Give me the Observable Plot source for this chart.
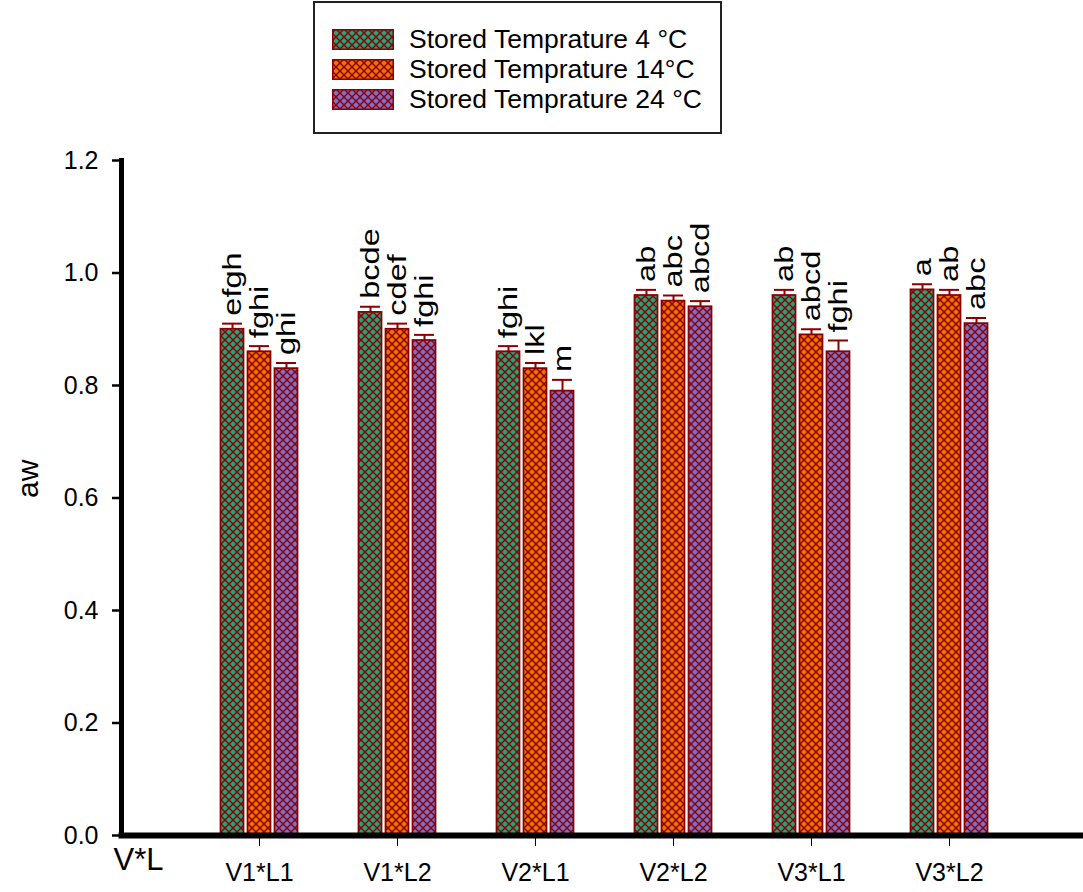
<!DOCTYPE html>
<html>
<head>
<meta charset="utf-8">
<script src="https://cdn.jsdelivr.net/npm/d3@7"></script>
<script src="https://cdn.jsdelivr.net/npm/@observablehq/plot@0.6"></script>
<style>
  html, body { margin: 0; padding: 0; background: #fff; }
  body { font-family: "Liberation Sans", Arial, sans-serif; width: 1083px; }
  #legend { position: relative; height: 140px; }
  #legend .box { position: absolute; left: 313px; top: 1px; width: 409px; height: 133px; box-sizing: border-box; border: 2px solid #222; }
  #legend .row { position: absolute; left: 17px; height: 22px; display: flex; align-items: center; }
  #legend .row svg { display: block; margin-right: 15px; }
  #legend .row span { font-size: 26.5px; color: #000; white-space: nowrap; line-height: 22px; }
  #chart svg { display: block; }
</style>
</head>
<body>
<svg width="0" height="0" style="position:absolute">
  <defs id="patterns"></defs>
</svg>
<div id="legend"><div class="box"></div></div>
<div id="chart"></div>
<script>
// ---------------- data ----------------
const categories = ["V1*L1", "V1*L2", "V2*L1", "V2*L2", "V3*L1", "V3*L2"];
const seriesNames = ["Stored Temprature 4 °C", "Stored Temprature 14°C", "Stored Temprature 24 °C"];
const aw4  = [0.90, 0.93, 0.86, 0.96, 0.96, 0.97];
const aw14 = [0.86, 0.90, 0.83, 0.95, 0.89, 0.96];
const aw24 = [0.83, 0.88, 0.79, 0.94, 0.86, 0.91];
const err4  = [0.01, 0.01, 0.01, 0.01, 0.01, 0.01];
const err14 = [0.01, 0.01, 0.01, 0.01, 0.01, 0.01];
const err24 = [0.01, 0.01, 0.02, 0.01, 0.02, 0.01];
const let4  = ["efgh", "bcde", "fghi", "ab", "ab", "a"];
const let14 = ["fghi", "cdef", "lkl", "abc", "abcd", "ab"];
const let24 = ["ghi", "fghi", "m", "abcd", "fghi", "abc"];
const yTicks = [0, 0.2, 0.4, 0.6, 0.8, 1.0, 1.2];

// ---------------- styles ----------------
const dark = "#8b0000";
const colors = ["#1fa47c", "#f07000", "#7d70cc"];
const offsets = [-27, 0, 27];

// patterns (crosshatch over colour)
const defs = document.getElementById("patterns");
colors.forEach((c, j) => {
  const ns = "http://www.w3.org/2000/svg";
  const p = document.createElementNS(ns, "pattern");
  p.setAttribute("id", "p" + j);
  p.setAttribute("patternUnits", "userSpaceOnUse");
  p.setAttribute("width", 8);
  p.setAttribute("height", 8);
  const bg = document.createElementNS(ns, "rect");
  bg.setAttribute("width", 8); bg.setAttribute("height", 8); bg.setAttribute("fill", dark);
  p.appendChild(bg);
  const r = 3.0;
  [[4, 4], [0, 0], [8, 0], [0, 8], [8, 8]].forEach(([cx, cy]) => {
    const d = document.createElementNS(ns, "polygon");
    d.setAttribute("points", `${cx},${cy - r} ${cx + r},${cy} ${cx},${cy + r} ${cx - r},${cy}`);
    d.setAttribute("fill", c);
    p.appendChild(d);
  });
  defs.appendChild(p);
});

// legend
const box = document.querySelector("#legend .box");
seriesNames.forEach((s, j) => {
  const row = document.createElement("div");
  row.className = "row";
  row.style.top = (25 + j * 30) + "px";
  row.innerHTML = `<svg width="62" height="21"><rect x="0.75" y="0.75" width="60.5" height="19.5" fill="url(#p${j})" stroke="${dark}" stroke-width="1.5"/></svg><span>${s}</span>`;
  box.appendChild(row);
});

// table
const vals = [aw4, aw14, aw24], errs = [err4, err14, err24], lets = [let4, let14, let24];
const rows = [];
categories.forEach((c, i) => seriesNames.forEach((s, j) =>
  rows.push({cat: c, series: s, k: j, value: vals[j][i], err: errs[j][i], letter: lets[j][i]})
));

const marks = [];
seriesNames.forEach((s, j) => {
  const d = rows.filter(r => r.k === j);
  marks.push(Plot.barY(d, {x: "cat", y: "value", fill: `url(#p${j})`, stroke: dark, strokeWidth: 1.75,
    insetLeft: 57.5, insetRight: 57.5, dx: offsets[j]}));
  marks.push(Plot.ruleX(d, {x: "cat", y1: "value", y2: r => r.value + r.err, stroke: dark, strokeWidth: 2, dx: offsets[j]}));
  marks.push(Plot.tickY(d, {x: "cat", y: r => r.value + r.err, stroke: dark, strokeWidth: 2,
    insetLeft: 59, insetRight: 59, dx: offsets[j]}));
  marks.push(Plot.text(d, {x: "cat", y: r => r.value + r.err, text: "letter", rotate: -90, textAnchor: "start",
    dx: offsets[j], dy: -8, fontSize: 25, fill: "#000"}));
});

const chart = Plot.plot({
  width: 1083,
  height: 752,
  marginTop: 20,
  marginBottom: 57,
  marginLeft: 121,
  marginRight: 0,
  style: {fontFamily: "'Liberation Sans', Arial, sans-serif", fontSize: "25px", color: "#000", background: "#fff"},
  x: {domain: categories, range: [190, 1018], padding: 0},
  y: {domain: [0, 1.2]},
  marks: [
    ...marks,
    Plot.axisY({ticks: yTicks, tickFormat: d3.format(".1f"), tickSize: 9, tickPadding: 14, fontSize: 25, strokeWidth: 2.5, label: null}),
    Plot.axisX({tickSize: 11, tickPadding: 17, fontSize: 25, strokeWidth: 1, label: null}),
    Plot.frame({anchor: "left", stroke: "#000", strokeWidth: 5, strokeLinecap: "square"}),
    Plot.frame({anchor: "bottom", stroke: "#000", strokeWidth: 6}),
    Plot.text(["aw"], {frameAnchor: "left", rotate: -90, dx: -93, fontSize: 30, fill: "#000"}),
    Plot.text(["V*L"], {frameAnchor: "bottom-left", textAnchor: "start", dx: -8, dy: 34, fontSize: 31, fill: "#000"})
  ]
});
document.getElementById("chart").appendChild(chart);

// stretch letter labels along their reading direction
const allLetters = new Set([...let4, ...let14, ...let24]);
chart.querySelectorAll("text").forEach(t => {
  const tr = t.getAttribute("transform") || "";
  if (tr.includes("rotate(-90)") && allLetters.has(t.textContent)) {
    t.setAttribute("transform", tr + " scale(1.3,1)");
  }
});
</script>
</body>
</html>
